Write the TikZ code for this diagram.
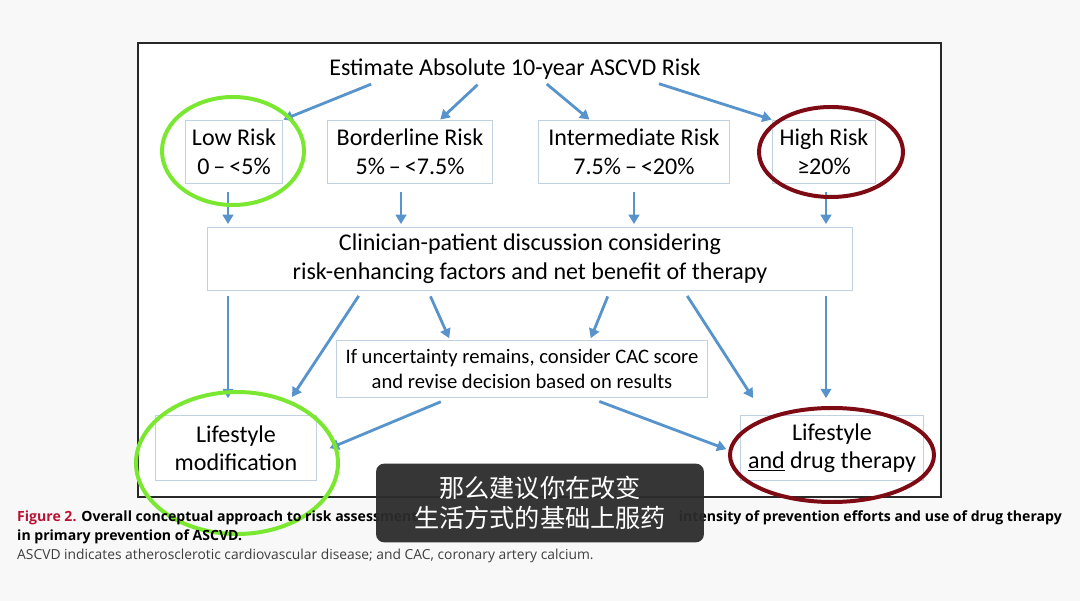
\documentclass[tikz,border=0pt]{standalone}
\usepackage{fontspec}
\setmainfont{Carlito}
\newfontfamily\capfont{Open Sans}
\newfontfamily\cjk{Noto Sans CJK SC}
\usepackage{tikz}
\usetikzlibrary{arrows.meta,positioning,shapes.geometric,calc}
\definecolor{pagebg}{RGB}{248,248,248}
\definecolor{framegray}{RGB}{40,40,40}
\definecolor{boxline}{RGB}{192,210,226}
\definecolor{flowblue}{RGB}{88,148,204}
\definecolor{ringgreen}{RGB}{122,232,48}
\definecolor{ringred}{RGB}{126,10,20}
\definecolor{figred}{RGB}{186,20,52}
\definecolor{notegray}{RGB}{62,62,62}
\definecolor{subbg}{RGB}{44,44,44}
\newdimen\pix
\pix=0.8504pt

\begin{document}
\begin{tikzpicture}[x=0.03cm,y=-0.03cm,
  riskbox/.style={draw=boxline,fill=white,line width=0.9pt,inner sep=0pt,
    align=center,font=\fontsize{20.5}{24.7}\selectfont},
  flow/.style={draw=flowblue,line width=2.4pt,-{Triangle[width=9pt,length=8pt]}},
  ring/.style={line width=3.4pt},
  capline/.style={anchor=west,inner sep=0pt,font=\capfont\fontsize{12}{14}\selectfont}]
  % page and frame
  \useasboundingbox[fill=pagebg] (0,0) rectangle (1080,601);
  \draw[framegray,line width=1.2pt,fill=white] (138,43) rectangle (941,497);

  % Title and risk groups
  \node[font=\fontsize{20.5}{24}\selectfont] (title) at (515,69) {Estimate Absolute 10-year ASCVD Risk};
  \node[riskbox,minimum width=98\pix,minimum height=64\pix] (low) at (234,152) {Low Risk\\0\,--\,<5\%};
  \node[riskbox,minimum width=165\pix,minimum height=64\pix] (border) at (410,152) {Borderline Risk\\5\%\,--\,<7.5\%};
  \node[riskbox,minimum width=192\pix,minimum height=64\pix] (inter) at (634,152) {Intermediate Risk\\7.5\%\,--\,<20\%};
  \node[riskbox,minimum width=104\pix,minimum height=64\pix] (high) at (824,152) {High Risk\\≥20\%};

  % Discussion
  \node[riskbox,minimum width=647\pix,minimum height=63\pix] (clin) at (530,259)
    {Clinician-patient discussion considering\\risk-enhancing factors and net benefit of therapy};
  \node[riskbox,minimum width=373\pix,minimum height=57\pix,font=\fontsize{17.6}{22}\selectfont] (cac) at (522,369)
    {If uncertainty remains, consider CAC score\\and revise decision based on results};

  % Outcomes
  \node[riskbox,minimum width=161\pix,minimum height=65\pix,font=\fontsize{20.5}{24}\selectfont] (lmod) at (236,448) {Lifestyle\\modification};
  \node[riskbox,minimum width=183\pix,minimum height=65\pix,font=\fontsize{20.5}{24}\selectfont] (ldrug) at (832,448) {Lifestyle\\\underline{and} drug therapy};

  % arrow columns and free ends
  \coordinate (t1) at (373,0);
  \coordinate (t2) at (479,0);
  \coordinate (t3) at (546,0);
  \coordinate (t4) at (658,0);
  \coordinate (c1) at (228,0);
  \coordinate (c2) at (401,0);
  \coordinate (c3) at (634,0);
  \coordinate (c4) at (826,0);
  \coordinate (u1) at (362,0);
  \coordinate (u2) at (428,0);
  \coordinate (u3) at (610,0);
  \coordinate (u4) at (684,0);
  \coordinate (v1) at (292,397);
  \coordinate (v2) at (450,0);
  \coordinate (v3) at (590,0);
  \coordinate (v4) at (753,398);
  \coordinate (w1) at (450,0);
  \coordinate (w2) at (590,0);

  % title to groups
  \draw[flow,shorten <=2\pix] (title.south -| t1) -- (low.north east);
  \draw[flow,shorten <=2\pix] (title.south -| t2) -- (border.47);
  \draw[flow,shorten <=1\pix] (title.south -| t3) -- (inter.144);
  \draw[flow,shorten <=1\pix] (title.south -| t4) -- (high.north west);

  % groups to discussion
  \draw[flow,shorten <=8\pix,shorten >=3\pix] (low.south -| c1) -- (clin.north -| c1);
  \draw[flow,shorten <=8\pix,shorten >=3\pix] (border.south -| c2) -- (clin.north -| c2);
  \draw[flow,shorten <=8\pix,shorten >=3\pix] (inter.south -| c3) -- (clin.north -| c3);
  \draw[flow,shorten <=8\pix,shorten >=3\pix] (high.south -| c4) -- (clin.north -| c4);

  % discussion to outcomes
  \draw[flow,shorten <=5\pix,shorten >=17\pix] (clin.south -| c1) -- (lmod.north -| c1);
  \draw[flow,shorten <=6\pix] (clin.south -| u1) -- (v1);
  \draw[flow,shorten <=6\pix,shorten >=2\pix] (clin.south -| u2) -- (cac.north -| v2);
  \draw[flow,shorten <=6\pix,shorten >=2\pix] (clin.south -| u3) -- (cac.north -| v3);
  \draw[flow,shorten <=6\pix] (clin.south -| u4) -- (v4);
  \draw[flow,shorten <=5\pix,shorten >=17\pix] (clin.south -| c4) -- (ldrug.north -| c4);

  % CAC to outcomes
  \draw[flow,shorten <=10\pix,shorten >=14\pix] (cac.south -| w1) -- (lmod.-4);
  \draw[flow,shorten <=10\pix,shorten >=15\pix] (cac.south -| w2) -- (ldrug.184);

  % highlight rings
  \draw[ring,ringgreen] (233,151) ellipse [x radius=71, y radius=54];
  \draw[ring,ringred] (831,152) ellipse [x radius=72, y radius=45];
  \draw[ring,ringgreen] (237,463) ellipse [x radius=101, y radius=71];
  \draw[ring,ringred] (832,455) ellipse [x radius=102, y radius=47];

  % caption
  \node[capline] (cap1) at (17,518) {\bfseries\textcolor{figred}{Figure 2.} Overall conceptual approach to risk assessment};
  \node[capline,anchor=east] (cap1b) at (1062,518) {\bfseries intensity of prevention efforts and use of drug therapy};
  \node[capline] (cap2) at (17,537) {\bfseries in primary prevention of ASCVD.};
  \node[capline,text=notegray,font=\capfont\fontsize{11.8}{14}\selectfont] (cap3) at (17,556) {ASCVD indicates atherosclerotic cardiovascular disease; and CAC, coronary artery calcium.};

  % subtitle
  \node[fill=subbg,fill opacity=0.95,text opacity=1,text=white,rounded corners=8\pix,
    minimum width=329\pix,minimum height=79\pix,align=center,
    font=\cjk\fontsize{21.5}{25.5}\selectfont] (sub) at (540,503)
    {那么建议你在改变\\生活方式的基础上服药};
\end{tikzpicture}
\end{document}
